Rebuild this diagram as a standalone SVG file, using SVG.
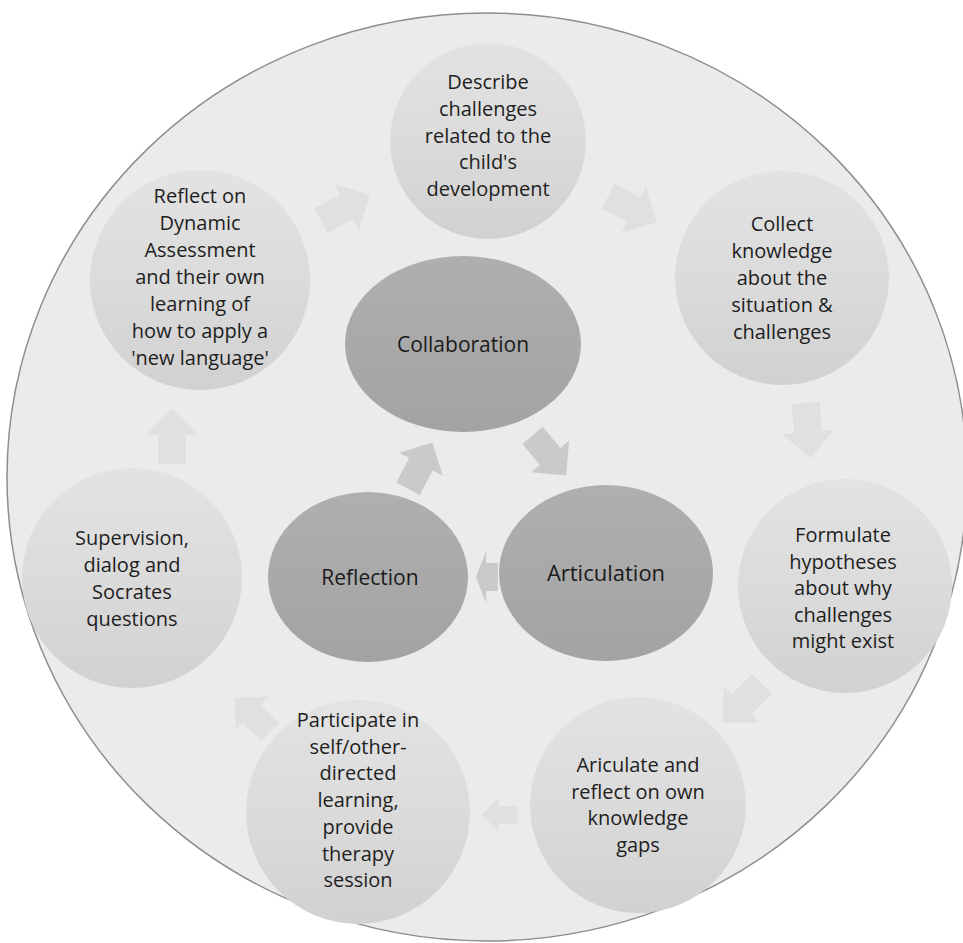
<svg xmlns="http://www.w3.org/2000/svg" width="963" height="943" viewBox="0 0 963 943">
  <style>
    .outer { fill: url(#gOuter); }
    .inner { fill: url(#gInner); }
    .t { font-family: "Open Sans", "Liberation Sans", sans-serif; font-size: 20px; fill: #1e1e1e; text-anchor: middle; }
    .ti { font-family: "Open Sans", "Liberation Sans", sans-serif; font-size: 21px; fill: #1a1a1a; text-anchor: middle; }
    .arr { fill: #e0e0e0; }
    .arrIn { fill: #cacaca; }
  </style>
  <defs>
    <linearGradient id="gOuter" x1="0" y1="0" x2="0" y2="1">
      <stop offset="0" stop-color="#e3e3e3"/>
      <stop offset="0.5" stop-color="#dbdbdb"/>
      <stop offset="1" stop-color="#d1d1d1"/>
    </linearGradient>
    <linearGradient id="gInner" x1="0" y1="0" x2="0" y2="1">
      <stop offset="0" stop-color="#afafaf"/>
      <stop offset="1" stop-color="#a3a3a3"/>
    </linearGradient>
    <polygon id="arrow" points="-27,-14 2,-14 2,-26 28,0 2,26 2,14 -27,14"/>
  </defs>
  <rect width="963" height="943" fill="#ffffff"/>

  <g id="background">
    <ellipse cx="487" cy="477" rx="480" ry="464" fill="#ebebeb" stroke="#8e8e8e" stroke-width="1.5"/>
  </g>

  <g id="connectors">
    <use href="#arrow" class="arr" transform="translate(345,208) rotate(-28)"/>
    <use href="#arrow" class="arr" transform="translate(632,209) rotate(28)"/>
    <use href="#arrow" class="arr" transform="translate(808,430) rotate(85)"/>
    <use href="#arrow" class="arr" transform="translate(743,703) rotate(135)"/>
    <use href="#arrow" class="arr" transform="translate(500,815) rotate(180) scale(0.65)"/>
    <use href="#arrow" class="arr" transform="translate(253,715) rotate(225) scale(0.9)"/>
    <use href="#arrow" class="arr" transform="translate(172,437) rotate(270)"/>
    <use href="#arrow" class="arrIn" transform="translate(549,455) rotate(50) scale(0.95)"/>
    <use href="#arrow" class="arrIn" transform="translate(487,577) rotate(180) scale(0.4,1)"/>
    <use href="#arrow" class="arrIn" transform="translate(420,466) rotate(-62) scale(0.95)"/>
  </g>

  <g id="node-describe">
    <circle class="outer" cx="488" cy="141" r="98"/>
    <text class="t" x="488" y="89">Describe</text>
    <text class="t" x="488" y="116">challenges</text>
    <text class="t" x="488" y="143">related to the</text>
    <text class="t" x="488" y="169">child's</text>
    <text class="t" x="488" y="196">development</text>
  </g>

  <g id="node-collect">
    <circle class="outer" cx="782" cy="278" r="107"/>
    <text class="t" x="782" y="231">Collect</text>
    <text class="t" x="782" y="258">knowledge</text>
    <text class="t" x="782" y="285">about the</text>
    <text class="t" x="782" y="312">situation &amp;</text>
    <text class="t" x="782" y="339">challenges</text>
  </g>

  <g id="node-formulate">
    <circle class="outer" cx="845" cy="586" r="107"/>
    <text class="t" x="843" y="542">Formulate</text>
    <text class="t" x="843" y="569">hypotheses</text>
    <text class="t" x="843" y="595">about why</text>
    <text class="t" x="843" y="622">challenges</text>
    <text class="t" x="843" y="648">might exist</text>
  </g>

  <g id="node-ariculate">
    <circle class="outer" cx="638" cy="805" r="108"/>
    <text class="t" x="638" y="772">Ariculate and</text>
    <text class="t" x="638" y="799">reflect on own</text>
    <text class="t" x="638" y="825">knowledge</text>
    <text class="t" x="638" y="852">gaps</text>
  </g>

  <g id="node-participate">
    <circle class="outer" cx="358" cy="812" r="112"/>
    <text class="t" x="358" y="727">Participate in</text>
    <text class="t" x="358" y="754">self/other-</text>
    <text class="t" x="358" y="780">directed</text>
    <text class="t" x="358" y="807">learning,</text>
    <text class="t" x="358" y="834">provide</text>
    <text class="t" x="358" y="861">therapy</text>
    <text class="t" x="358" y="887">session</text>
  </g>

  <g id="node-supervision">
    <circle class="outer" cx="132" cy="578" r="110"/>
    <text class="t" x="132" y="545">Supervision,</text>
    <text class="t" x="132" y="572">dialog and</text>
    <text class="t" x="132" y="599">Socrates</text>
    <text class="t" x="132" y="626">questions</text>
  </g>

  <g id="node-reflect">
    <circle class="outer" cx="200" cy="280" r="110"/>
    <text class="t" x="200" y="203">Reflect on</text>
    <text class="t" x="200" y="230">Dynamic</text>
    <text class="t" x="200" y="257">Assessment</text>
    <text class="t" x="200" y="284">and their own</text>
    <text class="t" x="200" y="311">learning of</text>
    <text class="t" x="200" y="338">how to apply a</text>
    <text class="t" x="200" y="365">'new language'</text>
  </g>

  <g id="node-collaboration">
    <ellipse class="inner" cx="463" cy="344" rx="118" ry="88"/>
    <text class="ti" x="463" y="352">Collaboration</text>
  </g>

  <g id="node-reflection">
    <ellipse class="inner" cx="368" cy="577" rx="100" ry="85"/>
    <text class="ti" x="370" y="585">Reflection</text>
  </g>

  <g id="node-articulation">
    <ellipse class="inner" cx="606" cy="573" rx="107" ry="88"/>
    <text class="ti" x="606" y="581" style="font-size:22px">Articulation</text>
  </g>
</svg>
